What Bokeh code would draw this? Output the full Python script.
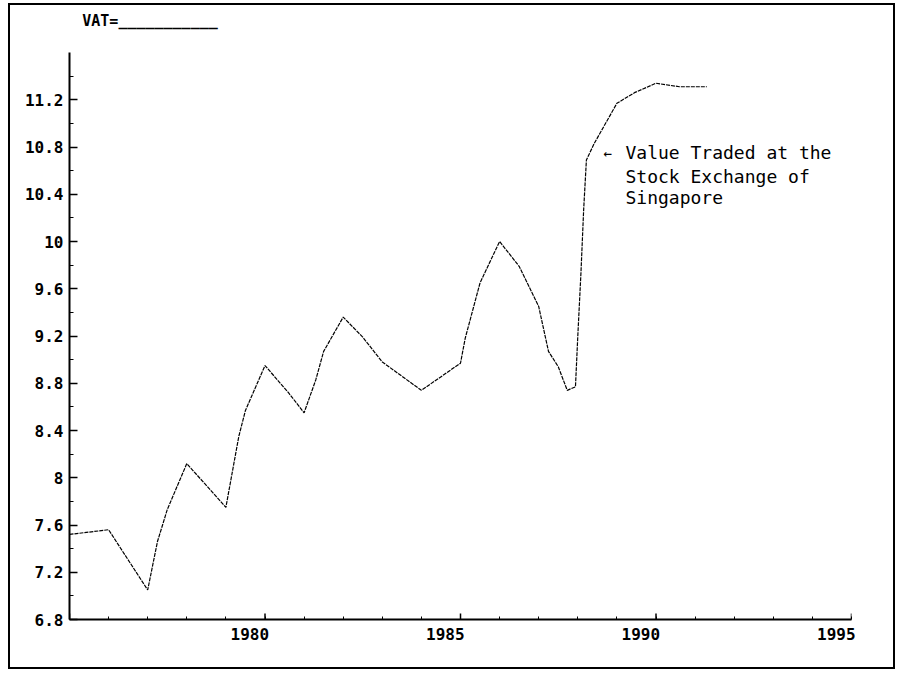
from bokeh.plotting import figure
from bokeh.models import Range1d, FixedTicker, LinearAxis
from bokeh.core.properties import value
from bokeh.embed import file_html
from bokeh.resources import INLINE

# ---- data ----
years = [1975.0, 1976.0, 1977.0, 1977.25, 1977.5, 1978.0, 1978.35, 1979.0, 1979.33, 1979.5,
         1980.0, 1980.6, 1981.0, 1981.3, 1981.5, 1982.0, 1982.5, 1983.0, 1984.0, 1985.0,
         1985.12, 1985.5, 1986.0, 1986.5, 1987.0, 1987.25, 1987.5, 1987.73, 1987.94, 1988.0,
         1988.08, 1988.15, 1988.22, 1988.42, 1989.0, 1989.45, 1990.0, 1990.6, 1991.3]
vat = [7.52, 7.56, 7.05, 7.46, 7.73, 8.12, 7.99, 7.75, 8.35, 8.57,
       8.95, 8.72, 8.55, 8.83, 9.07, 9.36, 9.19, 8.98, 8.74, 8.97,
       9.18, 9.65, 10.0, 9.79, 9.45, 9.07, 8.94, 8.74, 8.77, 9.2,
       9.73, 10.27, 10.69, 10.83, 11.17, 11.26, 11.34, 11.31, 11.31]

x_major = [1975, 1980, 1985, 1990, 1995]
x_minor = list(range(1975, 1996))
x_label_years = [1980, 1985, 1990, 1995]
x_labels = ["1980", "1985", "1990", "1995"]

y_ticks = [6.8, 7.2, 7.6, 8.0, 8.4, 8.8, 9.2, 9.6, 10.0, 10.4, 10.8, 11.2]
y_labels = ["6.8", "7.2", "7.6", "8", "8.4", "8.8", "9.2", "9.6", "10", "10.4", "10.8", "11.2"]
y_minor = [7.0, 7.4, 7.8, 8.2, 8.6, 9.0, 9.4, 9.8, 10.2, 10.6, 11.0, 11.4]

title_text = "VAT=___________"
note_arrow = "\u2190"
note_lines = ["Value Traded at the", "Stock Exchange of", "Singapore"]
note_arrow_x = 1988.66
note_x = 1989.22
note_y = [10.75, 10.55, 10.37]

MONO = "DejaVu Sans Mono"
X0, X1, Y0, Y1 = 1975, 1995, 6.8, 11.6
W, H = 887, 666
ML, MR, MT, MB = 59, 46, 47, 52
px_per_unit_y = (H - MT - MB) / (Y1 - Y0)
px_per_year = (W - ML - MR) / (X1 - X0)

p = figure(width=W, height=H, output_backend="svg", toolbar_location=None,
           x_range=Range1d(X0, X1), y_range=Range1d(Y0, Y1),
           min_border_left=ML, min_border_right=MR, min_border_top=MT, min_border_bottom=MB,
           background_fill_color="white", border_fill_color="white")
p.styles = {"border": "2px solid black", "margin-left": "8px", "margin-top": "3px"}
p.outline_line_color = None
p.grid.visible = False

# x axis: labels sit to the left of their ticks (right-aligned) as in the reference
label_shift = 15.2 / px_per_year
xa = p.xaxis[0]
xa.ticker = FixedTicker(ticks=[yv - label_shift for yv in x_label_years], minor_ticks=x_minor)
xa.major_label_overrides = {yv - label_shift: t for yv, t in zip(x_label_years, x_labels)}
xa.axis_line_width = 2
xa.major_tick_line_color = None
xa.minor_tick_in = 3
xa.minor_tick_out = 0
xa.major_label_standoff = 2
xa.major_label_text_font = MONO
xa.major_label_text_font_style = "bold"
xa.major_label_text_font_size = "16px"
xa.major_label_text_color = "black"

# longer ticks every five years
tick_len = 6 / px_per_unit_y
p.segment(x0=x_major, y0=[Y0] * len(x_major), x1=x_major, y1=[Y0 + tick_len] * len(x_major),
          line_color="black", line_width=1.5)

ya = p.yaxis[0]
ya.ticker = FixedTicker(ticks=y_ticks, minor_ticks=y_minor)
ya.major_label_overrides = {t: l for t, l in zip(y_ticks, y_labels)}
ya.axis_line_width = 2
ya.major_tick_in = 8
ya.major_tick_out = 0
ya.minor_tick_in = 4
ya.minor_tick_out = 0
ya.major_tick_line_width = 1.5
ya.major_label_standoff = 6
ya.major_label_text_font = MONO
ya.major_label_text_font_style = "bold"
ya.major_label_text_font_size = "16px"
ya.major_label_text_color = "black"

# "VAT=____" heading in the top margin
title_x = X0 + 80.5 / px_per_year
top = LinearAxis(ticker=FixedTicker(ticks=[title_x], minor_ticks=[]),
                 major_label_overrides={title_x: title_text},
                 axis_line_color=None, major_tick_line_color=None, minor_tick_line_color=None,
                 major_tick_out=0, major_tick_in=0, axis_label_standoff=0,
                 major_label_standoff=23, major_label_text_font=MONO,
                 major_label_text_font_style="bold", major_label_text_font_size="15px",
                 major_label_text_color="black")
p.add_layout(top, "above")

# series
p.line(years, vat, line_color="black", line_width=1.2, line_dash="4 1")

# annotation
p.text(x=[note_arrow_x], y=[note_y[0]], text=[note_arrow], text_align="left",
       text_baseline="middle", text_font=value(MONO), text_font_size="14px",
       text_color="black")
p.text(x=[note_x] * 3, y=note_y, text=note_lines, text_align="left",
       text_baseline="middle", text_font=value(MONO), text_font_size="18px",
       text_color="black")

open("out.html", "w").write(file_html(p, INLINE))
